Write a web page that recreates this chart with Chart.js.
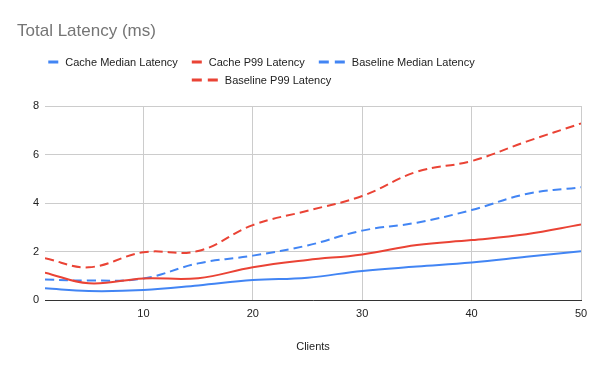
<!DOCTYPE html>
<html>
<head>
<meta charset="utf-8">
<script src="https://cdn.jsdelivr.net/npm/chart.js@4"></script>
<style>
  html, body { margin: 0; padding: 0; background: #fff; }
  #wrap { width: 600px; height: 371px; }
</style>
</head>
<body>
<div id="wrap"><canvas id="latencyChart"></canvas></div>
<script>
// datos
const clients = [1, 5, 10, 15, 20, 25, 30, 35, 40, 45, 50];
const cacheMedian = [0.48, 0.37, 0.41, 0.60, 0.82, 0.92, 1.20, 1.38, 1.55, 1.78, 2.01];
const cacheP99 = [1.13, 0.69, 0.89, 0.90, 1.35, 1.65, 1.88, 2.27, 2.47, 2.71, 3.11];
const baselineMedian = [0.85, 0.80, 0.89, 1.51, 1.83, 2.25, 2.86, 3.19, 3.71, 4.37, 4.65];
const baselineP99 = [1.72, 1.35, 1.97, 2.02, 3.09, 3.68, 4.29, 5.29, 5.73, 6.53, 7.28];
const xTicks = [10, 20, 30, 40, 50];
const yTicks = [0, 2, 4, 6, 8];

const BLUE = '#4285F4';
const RED = '#EA4335';
const FONT = '"Liberation Sans", Arial, sans-serif';

function points(values) {
    return clients.map((c, i) => ({ x: c, y: values[i] }));
}

function serie(label, values, color, dashed) {
    return {
        label: label,
        data: points(values),
        borderColor: color,
        backgroundColor: color,
        borderWidth: 2,
        borderDash: dashed ? [9, 5] : [],
        pointRadius: 0,
        tension: 0.4,
        fill: false
    };
}

// leyenda dibujada a mano (estilo Google Charts)
const legendPlugin = {
    id: 'googleLegend',
    afterDraw(chart) {
        const ctx = chart.ctx;
        const rows = [[0, 1, 2], [3]];
        const rowY = [62, 80];
        const centerX = 261.5;
        ctx.save();
        ctx.font = '11px ' + FONT;
        ctx.textBaseline = 'middle';
        rows.forEach((row, r) => {
            const items = row.map(i => {
                const ds = chart.data.datasets[i];
                const dashed = ds.borderDash.length > 0;
                const mw = dashed ? 26 : 10;
                return { ds, dashed, mw, w: mw + 7 + ctx.measureText(ds.label).width };
            });
            const total = items.reduce((s, it) => s + it.w, 0) + 14 * (items.length - 1);
            let x = centerX - total / 2;
            items.forEach(it => {
                ctx.fillStyle = it.ds.borderColor;
                ctx.fillRect(x, rowY[r] - 1.5, 10, 3);
                if (it.dashed) ctx.fillRect(x + 16, rowY[r] - 1.5, 10, 3);
                ctx.fillStyle = '#222';
                ctx.fillText(it.ds.label, x + it.mw + 7, rowY[r] + 0.5);
                x += it.w + 14;
            });
        });
        ctx.restore();
    }
};

const ctx = document.getElementById('latencyChart').getContext('2d');
const myChart = new Chart(ctx, {
    type: 'line',
    data: {
        datasets: [
            serie('Cache Median Latency', cacheMedian, BLUE, false),
            serie('Cache P99 Latency', cacheP99, RED, false),
            serie('Baseline Median Latency', baselineMedian, BLUE, true),
            serie('Baseline P99 Latency', baselineP99, RED, true)
        ]
    },
    options: {
        responsive: true,
        maintainAspectRatio: false,
        animation: false,
        layout: { padding: { left: 17, right: 19, top: 0, bottom: 0 } },
        plugins: {
            legend: { display: false },
            tooltip: { enabled: false },
            title: {
                display: true,
                text: 'Total Latency (ms)',
                align: 'start',
                color: '#757575',
                font: { family: FONT, size: 17, weight: 'normal' },
                padding: { top: 21, bottom: 64.6 }
            }
        },
        scales: {
            x: {
                type: 'linear',
                min: 1,
                max: 50,
                afterBuildTicks: (scale) => {
                    scale.ticks = xTicks.map(v => ({ value: v }));
                },
                grid: { color: '#cccccc', drawTicks: false },
                border: { display: true, color: '#333333', width: 1 },
                ticks: {
                    color: '#222',
                    font: { family: FONT, size: 11 },
                    padding: 7,
                    maxRotation: 0
                },
                title: {
                    display: true,
                    text: 'Clients',
                    color: '#222',
                    font: { family: FONT, size: 11 },
                    padding: { top: 13, bottom: 17.6 }
                }
            },
            y: {
                min: 0,
                max: 8,
                afterBuildTicks: (scale) => {
                    scale.ticks = yTicks.map(v => ({ value: v }));
                },
                afterFit: (scale) => {
                    scale.width = 28;
                },
                grid: { color: '#cccccc', drawTicks: false },
                border: { display: false },
                ticks: {
                    color: '#222',
                    font: { family: FONT, size: 11 },
                    padding: 6
                }
            }
        }
    },
    plugins: [legendPlugin]
});
</script>
</body>
</html>
